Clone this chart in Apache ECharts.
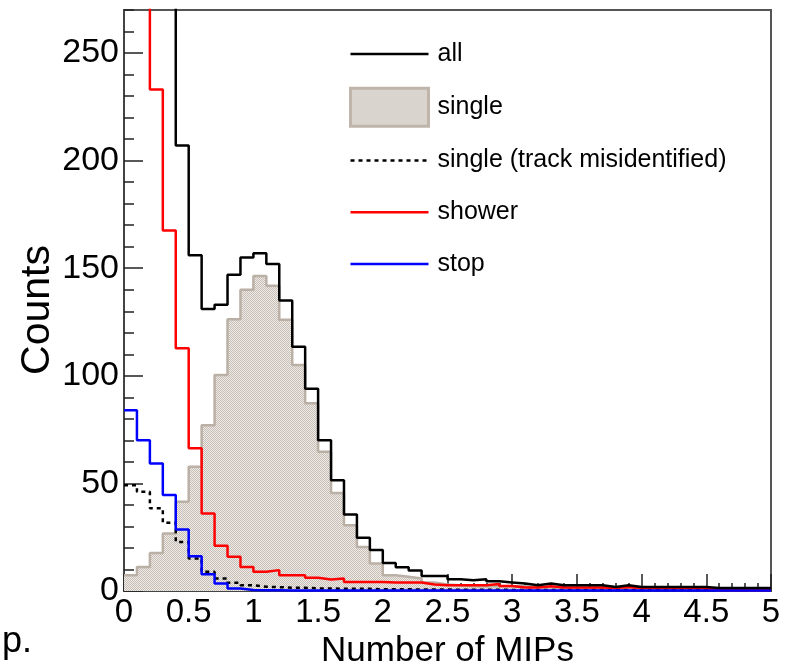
<!DOCTYPE html>
<html>
<head>
<meta charset="utf-8">
<script src="https://cdn.jsdelivr.net/npm/echarts@6/dist/echarts.min.js"></script>
<style>
html,body{margin:0;padding:0;background:#fff;}
#chart{width:798px;height:668px;}
</style>
</head>
<body>
<div id="chart"></div>
<script>
// Histogram: 50 bins of width 0.1 from 0 to 5 (Number of MIPs)
const binWidth = 0.1;
const nBins = 50;
const xTicks = ['0','0.5','1','1.5','2','2.5','3','3.5','4','4.5','5'];
const yTicks = ['0','50','100','150','200','250'];

const allCounts = [560, 480, 380, 290, 207, 156, 131, 133, 147, 155,
                   157, 152, 135, 113.5, 94, 70, 51.5, 35.5, 24.8, 19,
                   13, 11, 9.5, 7, 7, 5.5, 5, 5.5, 4.5, 4,
                   3.5, 2.7, 3.5, 2.7, 2.7, 2.7, 2.7, 1.9, 2.7, 1.9,
                   1.9, 1.9, 1.9, 1.9, 1.9, 1.4, 1.4, 1.4, 1.4, 1.4];
const singleCounts = [7.3, 11.2, 17.7, 26.7, 41.5, 57.7, 77, 100.4, 126.3, 140,
                      146.4, 141.8, 126, 105, 87.2, 64.7, 45.5, 30.6, 20.5, 12.8,
                      7.3, 6.6, 5.8, 3.9, 3, 2.7, 2.2, 2.2, 2.2, 2.2,
                      2.2, 1.8, 1.8, 1.5, 1.2, 1.2, 1, 1, 1.2, 1,
                      1, 1, 0.8, 0.8, 0.8, 0.5, 0.5, 0.5, 0.5, 0.5];
const misidCounts = [49.2, 46.1, 38.4, 31.7, 22.8, 15.1, 8.9, 5.8, 3.8, 2.7,
                     2, 1.8, 1.5, 1.5, 1.2, 1.2, 1, 1, 1, 0.8,
                     0.8, 0.8, 0.7, 0.7, 0.7, 0.6, 0.6, 0.6, 0.6, 0.5,
                     0.5, 0.5, 0.5, 0.5, 0.5, 0.5, 0.5, 0.5, 0.5, 0.5,
                     0.5, 0.5, 0.5, 0.5, 0.5, 0.5, 0.5, 0.5, 0.5, 0.5];
const showerCounts = [420, 330, 233, 167.5, 112.8, 66.3, 36, 21, 15.9, 11.2,
                      8.9, 9.7, 7.3, 7.3, 6.2, 5.3, 5.8, 4.2, 4.2, 4.2,
                      4, 4, 3.9, 3, 2.7, 2.7, 2.7, 2.7, 3.3, 2.3,
                      1.6, 1.6, 2.2, 1.6, 1.6, 1.6, 1.6, 1.4, 1.9, 1.4,
                      1.4, 1.4, 1.4, 1.4, 1.4, 0.5, 0.3, 0.3, 0.3, 0.3];
const stopCounts = [84, 70, 59.3, 44.6, 28.6, 16.2, 7.8, 3.5, 1.2, 0.5,
                    0.3, 0.3, 0.2, 0.2, 0.2, 0.2, 0.2, 0.2, 0.2, 0.2,
                    0.2, 0.2, 0.2, 0.2, 0.2, 0.2, 0.2, 0.2, 0.2, 0.2,
                    0.2, 0.2, 0.2, 0.2, 0.2, 0.2, 0.2, 0.2, 0.2, 0.2,
                    0.2, 0.2, 0.2, 0.2, 0.2, 0.2, 0.2, 0.2, 0.2, 0.2];

function histData(counts) {
  const d = counts.map((v, i) => [+(i * binWidth).toFixed(2), v]);
  d.push([+(nBins * binWidth).toFixed(2), counts[counts.length - 1]]);
  return d;
}

// dotted fill pattern (ROOT-like)
const pc = document.createElement('canvas');
pc.width = 2; pc.height = 2;
const pctx = pc.getContext('2d');
pctx.fillStyle = '#eeebe8'; pctx.fillRect(0, 0, 2, 2);
pctx.fillStyle = '#c6bdb4'; pctx.fillRect(0, 0, 1, 1); pctx.fillRect(1, 1, 1, 1);
const pattern = { image: pc, repeat: 'repeat' };

const FONT = 'Liberation Sans, Arial, Helvetica, sans-serif';
const chart = echarts.init(document.getElementById('chart'), null, { renderer: 'canvas' });

const noSym = { color: 'rgba(0,0,0,0)', opacity: 0, borderWidth: 0 };

const option = {
  animation: false,
  backgroundColor: '#ffffff',
  grid: { left: 124, right: 27, top: 10, bottom: 77, containLabel: false, outerBoundsMode: 'none',
          show: true, borderColor: '#555', borderWidth: 2, backgroundColor: 'transparent' },
  legend: {
    orient: 'vertical', left: 344, top: 30,
    itemWidth: 78, itemHeight: 38, itemGap: 13.75,
    selectedMode: false,
    textStyle: { fontFamily: FONT, fontSize: 25, color: '#000', padding: [0, 0, 0, 4], height: 38, lineHeight: 38 },
    data: [
      { name: 'all', itemStyle: noSym, lineStyle: { width: 2.5, color: '#000' } },
      { name: 'single', icon: 'rect', itemStyle: { color: pattern, borderColor: '#bfb5ab', borderWidth: 3 } },
      { name: 'single (track misidentified)', itemStyle: noSym, lineStyle: { width: 2.5, color: '#000', type: [4, 4] } },
      { name: 'shower', itemStyle: noSym, lineStyle: { width: 2.5, color: '#ff0000' } },
      { name: 'stop', itemStyle: noSym, lineStyle: { width: 2.5, color: '#0000ff' } }
    ]
  },
  xAxis: {
    type: 'value', min: 0, max: 5, interval: 0.5,
    name: 'Number of MIPs', nameLocation: 'middle', nameGap: 41,
    nameTextStyle: { fontFamily: FONT, fontSize: 35, color: '#000' },
    axisLine: { show: true, lineStyle: { color: '#444', width: 2 } },
    axisTick: { show: true, inside: true, length: 17, lineStyle: { color: '#222', width: 1.5 } },
    minorTick: { show: true, splitNumber: 5, length: 8, lineStyle: { color: '#222', width: 1.5 } },
    splitLine: { show: false },
    axisLabel: { fontFamily: FONT, fontSize: 33, color: '#000', margin: 5,
      formatter: (v) => xTicks[Math.round(v / 0.5)] }
  },
  yAxis: [{
    type: 'value', min: 0, max: 270, interval: 50,
    axisLine: { show: true, lineStyle: { color: '#444', width: 2 } },
    axisTick: { show: true, inside: true, length: 19, lineStyle: { color: '#222', width: 1.5 } },
    splitLine: { show: false },
    axisLabel: { fontFamily: FONT, fontSize: 34, color: '#000', margin: 5, showMaxLabel: false,
      formatter: (v) => (v % 50 === 0 && v <= 250) ? yTicks[v / 50] : '' }
  }, {
    type: 'value', min: 0, max: 270, interval: 10, position: 'left',
    axisLine: { show: false },
    axisTick: { show: true, inside: true, length: 10, lineStyle: { color: '#222', width: 1.5 } },
    axisLabel: { show: false }, splitLine: { show: false }
  }],
  series: [
    { name: 'single', type: 'line', step: 'end', symbol: 'none', data: histData(singleCounts),
      lineStyle: { color: '#bab0a6', width: 2.5 }, itemStyle: { color: '#bab0a6' },
      areaStyle: { color: pattern, opacity: 1 } },
    { name: 'single (track misidentified)', type: 'line', step: 'end', symbol: 'none', data: histData(misidCounts),
      lineStyle: { color: '#000', width: 2.5, type: [4, 4] }, itemStyle: { color: '#000' } },
    { name: 'shower', type: 'line', step: 'end', symbol: 'none', data: histData(showerCounts),
      lineStyle: { color: '#ff0000', width: 2.5 }, itemStyle: { color: '#ff0000' } },
    { name: 'stop', type: 'line', step: 'end', symbol: 'none', data: histData(stopCounts),
      lineStyle: { color: '#0000ff', width: 2.5 }, itemStyle: { color: '#0000ff' } },
    { name: 'all', type: 'line', step: 'end', symbol: 'none', data: histData(allCounts),
      lineStyle: { color: '#000', width: 2.5 }, itemStyle: { color: '#000' } }
  ],
  graphic: [
    { type: 'text', x: 38, y: 310, rotation: Math.PI / 2, silent: true,
      style: { text: 'Counts', fontFamily: FONT, fontSize: 41, fill: '#000', align: 'center', verticalAlign: 'middle' } },
    { type: 'text', left: 2, top: 624, silent: true,
      style: { text: 'p.', fontFamily: FONT, fontSize: 36, fill: '#000' } }
  ]
};
chart.setOption(option);
</script>
</body>
</html>
